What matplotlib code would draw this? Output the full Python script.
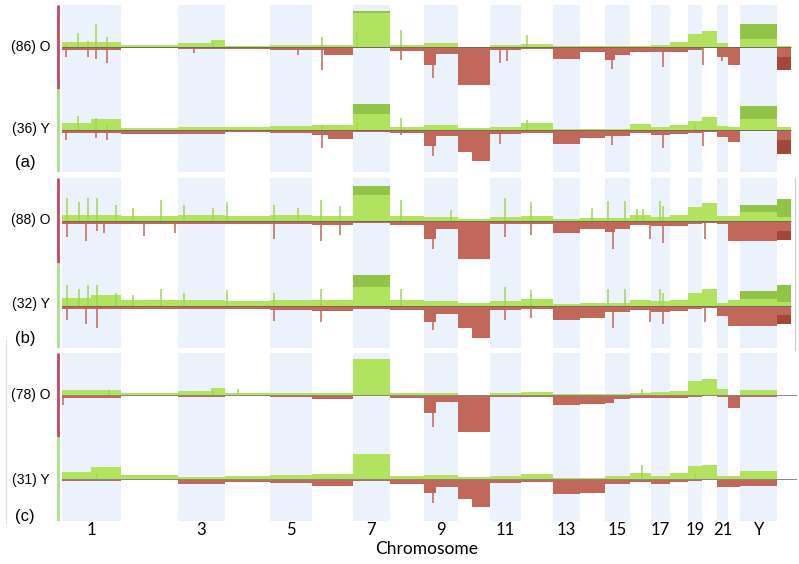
import matplotlib.pyplot as plt
from matplotlib.lines import Line2D

# chromosome sizes (Mb) in genome order
chroms = [str(i) for i in range(1, 23)] + ['X', 'Y']
chrom_len = [249.3, 243.2, 198.0, 191.2, 180.9, 171.1, 159.1, 146.4, 141.2, 135.5,
             135.0, 133.9, 115.2, 107.3, 102.5, 90.4, 81.2, 78.1, 59.1, 63.0,
             48.1, 51.3, 155.3, 59.4]
tick_labels = ['1', '3', '5', '7', '9', '11', '13', '15', '17', '19', '21', 'Y']

# frequency levels per chromosome (gain up, loss down)
a_O_gain = [5, 2, 4, 1, 2, 2, 34, 2, 4, 0, 2, 3, 1, 1, 1, 1, 2, 5, 13, 16, 4, 0, 8, 1]
a_O_gain_hi = [0, 0, 0, 0, 0, 0, 36, 0, 0, 0, 0, 0, 0, 0, 0, 0, 0, 0, 0, 0, 0, 0, 23, 0]
a_O_loss = [3, 1, 2, 2, 3, 3, 1, 4, 7, 38, 3, 2, 12, 5, 8, 5, 5, 5, 3, 1, 10, 18, 0, 10]
a_O_loss_hi = [0] * 23 + [23]
a_O_arms = [('3', 0.7, 1.0, 'g', 7), ('6', 0.3, 1.0, 'l', 8), ('9', 0.0, 0.35, 'l', 18),
            ('15', 0.0, 0.4, 'l', 13)]
a_O_spikes = [(15, 3, 10), (70, 14, 0), (110, 6, 10), (145, 23, 12), (190, 10, 16),
              (560, 0, 6), (640, 5, 0), (1000, 0, 8), (1104, 10, 23), (1253, 14, 0),
              (1440, 17, 13), (1575, 0, 31), (1860, 0, 16), (1890, 0, 14), (1975, 12, 0),
              (2335, 0, 22), (2552, 0, 20), (2721, 0, 18), (2803, 0, 14)]

a_Y_gain = [7, 2, 3, 3, 4, 5, 16, 3, 5, 2, 3, 7, 1, 1, 1, 6, 3, 5, 9, 13, 4, 3, 11, 3]
a_Y_gain_hi = [0, 0, 0, 0, 0, 0, 26, 0, 0, 0, 0, 0, 0, 0, 0, 0, 0, 0, 0, 0, 0, 0, 24, 0]
a_Y_loss = [3, 4, 4, 2, 3, 5, 2, 3, 6, 22, 4, 3, 14, 8, 6, 3, 5, 4, 3, 2, 7, 12, 1, 10]
a_Y_loss_hi = [0] * 23 + [24]
a_Y_arms = [('1', 0.5, 1.0, 'g', 11), ('6', 0.4, 1.0, 'l', 9), ('9', 0.0, 0.35, 'l', 16),
            ('10', 0.45, 1.0, 'l', 31)]
a_Y_spikes = [(15, 0, 10), (70, 14, 0), (145, 12, 8), (190, 4, 10), (1104, 5, 18),
              (1253, 8, 0), (1440, 12, 5), (1575, 0, 26), (1860, 0, 14), (1975, 10, 0),
              (2335, 0, 15), (2552, 0, 18), (2690, 5, 0), (2721, 0, 16)]

b_O_gain = [5, 4, 5, 4, 5, 4, 25, 4, 3, 1, 3, 4, 1, 2, 2, 5, 3, 5, 13, 17, 4, 4, 8, 3]
b_O_gain_hi = [0, 0, 0, 0, 0, 0, 34, 0, 0, 0, 0, 0, 0, 0, 0, 0, 0, 0, 0, 0, 0, 0, 15, 21]
b_O_loss = [3, 3, 3, 3, 3, 4, 2, 4, 8, 38, 3, 3, 12, 8, 8, 4, 5, 5, 3, 2, 3, 20, 20, 10]
b_O_loss_hi = [0] * 23 + [19]
b_O_arms = [('9', 0.0, 0.35, 'l', 18), ('15', 0.0, 0.4, 'l', 11)]
b_O_spikes = [(21, 22, 16), (72, 18, 0), (100, 0, 20), (110, 22, 0), (149, 22, 10),
              (180, 0, 12), (230, 15, 0), (300, 12, 0), (350, 0, 15), (420, 20, 0),
              (480, 0, 12), (520, 15, 0), (640, 12, 0), (700, 18, 0), (900, 15, 18),
              (1000, 12, 0), (1100, 20, 20), (1180, 14, 14), (1440, 20, 0), (1575, 0, 28),
              (1650, 10, 0), (1880, 22, 16), (1990, 18, 14), (2250, 12, 0), (2319, 19, 0),
              (2340, 0, 28), (2391, 19, 0), (2442, 11, 0), (2467, 11, 0), (2497, 0, 18),
              (2539, 19, 0), (2552, 14, 22), (2730, 0, 18)]

b_Y_gain = [7, 5, 5, 4, 5, 5, 18, 5, 4, 2, 4, 6, 1, 2, 2, 5, 4, 5, 12, 16, 2, 5, 6, 3]
b_Y_gain_hi = [0, 0, 0, 0, 0, 0, 30, 0, 0, 0, 0, 0, 0, 0, 0, 0, 0, 0, 0, 0, 0, 0, 14, 20]
b_Y_loss = [3, 3, 3, 3, 4, 5, 3, 4, 8, 22, 4, 3, 14, 12, 6, 4, 6, 5, 3, 2, 10, 20, 20, 9]
b_Y_loss_hi = [0] * 23 + [18]
b_Y_arms = [('1', 0.5, 1.0, 'g', 10), ('9', 0.0, 0.35, 'l', 16), ('10', 0.45, 1.0, 'l', 32)]
b_Y_spikes = [(21, 20, 14), (72, 16, 0), (100, 0, 18), (110, 20, 0), (149, 20, 22),
              (230, 12, 0), (300, 10, 0), (420, 16, 0), (520, 12, 0), (700, 15, 0),
              (900, 12, 15), (1100, 16, 16), (1440, 16, 0), (1575, 0, 24), (1880, 18, 14),
              (1990, 15, 12), (2319, 16, 0), (2340, 0, 22), (2391, 16, 0), (2497, 0, 16),
              (2539, 16, 0), (2552, 12, 18), (2730, 0, 16)]

c_O_gain = [5, 2, 4, 2, 2, 2, 36, 2, 2, 0, 2, 3, 1, 1, 1, 2, 3, 4, 14, 16, 6, 0, 5, 0]
c_O_gain_hi = [0] * 24
c_O_loss = [3, 1, 2, 1, 2, 4, 1, 3, 7, 37, 2, 2, 10, 9, 4, 3, 3, 3, 2, 1, 2, 13, 2, 0]
c_O_loss_hi = [0] * 24
c_O_arms = [('3', 0.7, 1.0, 'g', 7), ('9', 0.0, 0.35, 'l', 18), ('15', 0.0, 0.35, 'l', 8)]
c_O_spikes = [(5, 0, 10), (200, 5, 0), (640, 5, 0), (748, 6, 0), (1575, 0, 32),
              (2463, 6, 0)]

c_Y_gain = [7, 4, 2, 3, 4, 5, 25, 3, 4, 2, 3, 5, 1, 1, 3, 6, 3, 6, 13, 14, 3, 3, 8, 0]
c_Y_gain_hi = [0] * 24
c_Y_loss = [2, 1, 5, 3, 4, 7, 2, 5, 8, 20, 4, 3, 15, 14, 5, 3, 5, 3, 2, 1, 8, 8, 7, 0]
c_Y_loss_hi = [0] * 24
c_Y_arms = [('1', 0.5, 1.0, 'g', 12), ('9', 0.0, 0.35, 'l', 14), ('10', 0.45, 1.0, 'l', 28)]
c_Y_spikes = [(150, 5, 0), (1575, 0, 24), (2463, 14, 0), (2690, 5, 0)]

GAIN, GAIN_HI = '#b2e35f', '#93c44a'
LOSS, LOSS_HI = '#c2675b', '#a5463b'
BAND = '#ebf2fc'

starts = []
pos = 0.0
for L in chrom_len:
    starts.append(pos)
    pos += L
total = pos


def draw_track(ax, off, gain, gain_hi, loss, loss_hi, arms, spikes, full_line=False):
    for i in range(24):
        s, w = starts[i], chrom_len[i]
        if gain_hi[i]:
            ax.bar(s, gain_hi[i], w, bottom=off, align='edge', color=GAIN_HI, lw=0)
        if gain[i]:
            ax.bar(s, gain[i], w, bottom=off, align='edge', color=GAIN, lw=0)
        if loss_hi[i]:
            ax.bar(s, -loss_hi[i], w, bottom=off, align='edge', color=LOSS_HI, lw=0)
        if loss[i]:
            ax.bar(s, -loss[i], w, bottom=off, align='edge', color=LOSS, lw=0)
    for name, f0, f1, kind, v in arms:
        i = chroms.index(name)
        s = starts[i] + f0 * chrom_len[i]
        w = (f1 - f0) * chrom_len[i]
        if kind == 'g':
            ax.bar(s, v, w, bottom=off, align='edge', color=GAIN, lw=0)
        else:
            ax.bar(s, -v, w, bottom=off, align='edge', color=LOSS, lw=0)
    for x, up, down in spikes:
        if up:
            ax.vlines(x, off, off + up, color='#9fd65a', lw=1.1)
        if down:
            ax.vlines(x, off, off - down, color='#c0665a', lw=1.1)
    end = 3121 if full_line else total
    ax.hlines(off, 0, end, color='#6e6e50' if not full_line else '#8a8a7a', lw=0.7)


fig = plt.figure(figsize=(7.99, 5.64), dpi=100)
W, H = 799.0, 564.0
x0_mb = -25.5
x1_mb = 3121
panels = [(5, 172), (178, 348), (353, 521)]
Y_OFF = -84

tracks = [
    [(a_O_gain, a_O_gain_hi, a_O_loss, a_O_loss_hi, a_O_arms, a_O_spikes),
     (a_Y_gain, a_Y_gain_hi, a_Y_loss, a_Y_loss_hi, a_Y_arms, a_Y_spikes)],
    [(b_O_gain, b_O_gain_hi, b_O_loss, b_O_loss_hi, b_O_arms, b_O_spikes),
     (b_Y_gain, b_Y_gain_hi, b_Y_loss, b_Y_loss_hi, b_Y_arms, b_Y_spikes)],
    [(c_O_gain, c_O_gain_hi, c_O_loss, c_O_loss_hi, c_O_arms, c_O_spikes),
     (c_Y_gain, c_Y_gain_hi, c_Y_loss, c_Y_loss_hi, c_Y_arms, c_Y_spikes)],
]
labels = [('(86) O', '(36) Y', '(a)'), ('(88) O', '(32) Y', '(b)'), ('(78) O', '(31) Y', '(c)')]
label_y = [(47, 129, 162), (220, 304, 338), (395, 480, 517)]

for k, (top, bot) in enumerate(panels):
    ax = fig.add_axes([56 / W, 1 - bot / H, (797 - 56) / W, (bot - top) / H])
    ax.set_xlim(x0_mb, x1_mb)
    ax.set_ylim(-126, 42)
    for i in range(0, 24, 2):
        ax.axvspan(starts[i], starts[i] + chrom_len[i], color=BAND, lw=0, zorder=0)
    for t, off in zip(tracks[k], [0, Y_OFF]):
        draw_track(ax, off, *t, full_line=(k == 2))
    ax.vlines(-17, -42, 42, color='#c2476a', lw=2)
    ax.vlines(-17, -126, -42, color='#a6e08a', lw=2)
    for s in ax.spines.values():
        s.set_visible(False)
    ax.set_yticks([])
    if k == 2:
        centers = [starts[i] + chrom_len[i] / 2 for i in range(0, 24, 2)]
        ax.set_xticks(centers)
        ax.set_xticklabels(tick_labels, fontsize=12, family='Lato')
        ax.tick_params(axis='x', length=0, pad=1)
        ax.set_xlabel('Chromosome', fontsize=12.5, family='Lato', labelpad=2)
    else:
        ax.set_xticks([])
    lo, ly, pl = labels[k]
    yo, yy, yp = label_y[k]
    fig.text(31 / W, 1 - yo / H, lo, ha='center', va='center', fontsize=10, family='Liberation Sans')
    fig.text(31 / W, 1 - yy / H, ly, ha='center', va='center', fontsize=10, family='Liberation Sans')
    fig.text(25 / W, 1 - yp / H, pl, ha='center', va='center', fontsize=12, family='Liberation Sans')

fig.add_artist(Line2D([6 / W, 6 / W], [1 - 340 / H, 1 - 523 / H], color='#dddddd', lw=0.8))
fig.add_artist(Line2D([795 / W, 795 / W], [1 - 178 / H, 1 - 350 / H], color='#cccccc', lw=0.8))

fig.savefig('out.png', dpi=100)
